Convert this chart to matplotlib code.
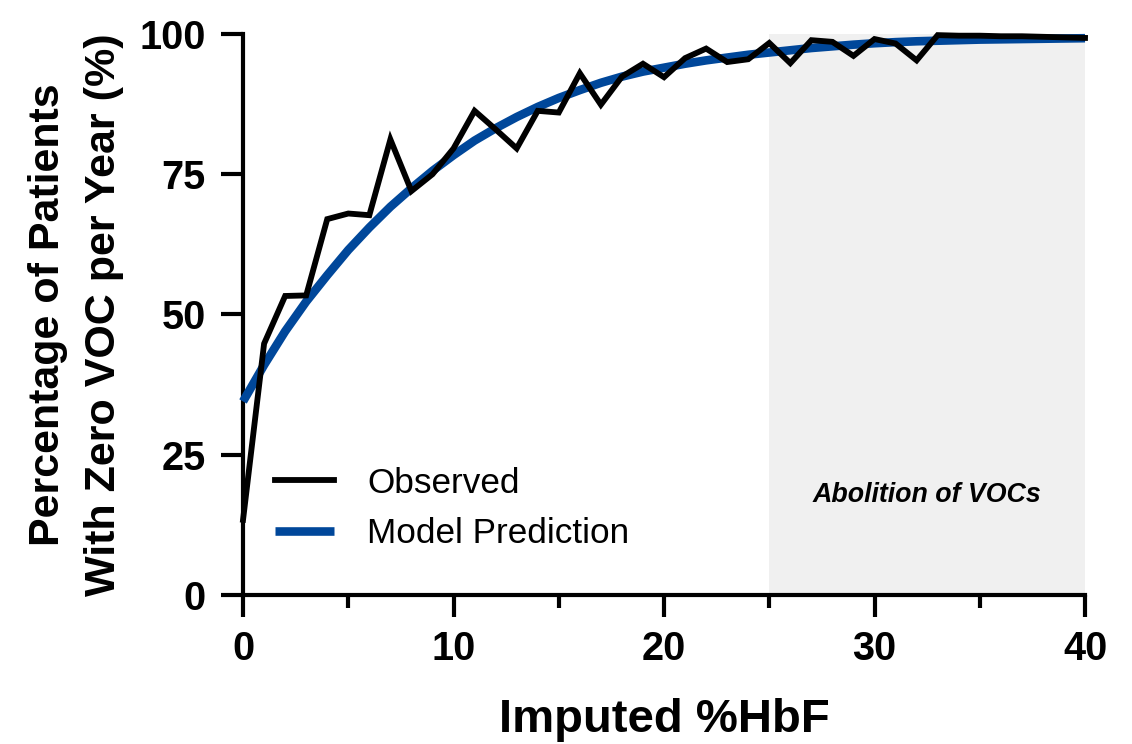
import matplotlib
matplotlib.use("Agg")
import matplotlib.pyplot as plt
from matplotlib.ticker import MultipleLocator

plt.rcParams['font.family'] = ['Liberation Sans', 'DejaVu Sans']

hbf = list(range(0, 41))
observed = [13.4, 44.8, 53.3, 53.4, 67.0, 68.0, 67.7, 81.2, 72.0, 75.0,
            79.6, 86.3, 83.0, 79.6, 86.3, 86.0, 93.0, 87.4, 92.4, 94.7,
            92.3, 95.7, 97.4, 95.0, 95.5, 98.4, 94.8, 98.9, 98.6, 96.1,
            99.1, 98.3, 95.3, 99.8, 99.7, 99.7, 99.6, 99.6, 99.5, 99.4,
            99.3]
model = [34.5, 41.0, 47.0, 52.3, 57.0, 61.5, 65.5, 69.2, 72.5, 75.6,
         78.4, 81.0, 83.2, 85.2, 87.0, 88.6, 90.0, 91.3, 92.4, 93.3,
         94.0, 94.7, 95.3, 95.8, 96.3, 96.7, 97.1, 97.5, 97.8, 98.1,
         98.35, 98.55, 98.7, 98.8, 98.9, 99.0, 99.05, 99.1, 99.15, 99.2,
         99.25]
shade_start, shade_end = 25, 40

fig = plt.figure(figsize=(11.32, 7.44), dpi=100)
ax = fig.add_axes([0.2147, 0.2003, 0.7438, 0.7540])

ax.axvspan(shade_start, shade_end, color='#f0f0f0', lw=0, zorder=0)
ax.text(32.5, 17.8, 'Abolition of VOCs', ha='center', va='center',
        fontsize=19.3, fontweight='bold', fontstyle='italic')

ax.plot(hbf, model, color='#00479a', lw=6.2, label='Model Prediction',
        solid_capstyle='butt', clip_on=False, zorder=3)
ax.plot(hbf, observed, color='black', lw=4.2, label='Observed',
        solid_joinstyle='miter', clip_on=False, zorder=4)

ax.set_xlim(0, 40)
ax.set_ylim(0, 100)
ax.xaxis.set_major_locator(MultipleLocator(10))
ax.xaxis.set_minor_locator(MultipleLocator(5))
ax.yaxis.set_major_locator(MultipleLocator(25))

for side in ('top', 'right'):
    ax.spines[side].set_visible(False)
for side in ('left', 'bottom'):
    ax.spines[side].set_linewidth(3)

ax.tick_params(axis='both', which='major', length=16, width=3,
               labelsize=28.5, pad=9)
ax.tick_params(axis='y', which='major', pad=11)
ax.tick_params(axis='x', which='minor', length=9, width=3)
for lbl in ax.get_xticklabels() + ax.get_yticklabels():
    lbl.set_fontweight('bold')

ax.set_xlabel('Imputed %HbF', fontsize=34, fontweight='bold', labelpad=22)
ax.set_ylabel('Percentage of Patients\nWith Zero VOC per Year (%)',
              fontsize=31, fontweight='bold', labelpad=11, linespacing=1.5)

handles, labels = ax.get_legend_handles_labels()
ax.legend(handles[::-1], labels[::-1], loc='upper left',
          bbox_to_anchor=(0.0, 0.285), frameon=False, fontsize=25.3,
          handlelength=1.7, handletextpad=0.93, labelspacing=0.5)

fig.savefig('out.png', dpi=100)
